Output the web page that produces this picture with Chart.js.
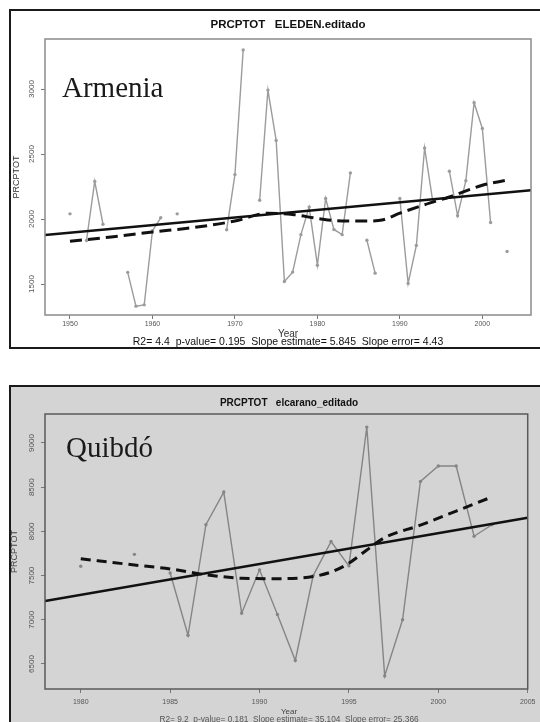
<!DOCTYPE html>
<html>
<head>
<meta charset="utf-8">
<script src="https://cdn.jsdelivr.net/npm/chart.js@4.4.1/dist/chart.umd.min.js"></script>
<style>
  html, body { margin: 0; padding: 0; background: #fff; }
  #wrap { position: relative; width: 540px; height: 722px; overflow: hidden; }
  canvas { position: absolute; left: 0; }
</style>
</head>
<body>
<div id="wrap">
  <canvas id="armenia" width="540" height="360" style="top:0"></canvas>
  <canvas id="quibdo" width="540" height="362" style="top:360px"></canvas>
</div>
<script>
// ---- Armenia (top panel) ----
const armeniaYears = [1950, 1951, 1952, 1953, 1954, 1955, 1956, 1957, 1958, 1959,
  1960, 1961, 1962, 1963, 1964, 1965, 1966, 1967, 1968, 1969,
  1970, 1971, 1972, 1973, 1974, 1975, 1976, 1977, 1978, 1979,
  1980, 1981, 1982, 1983, 1984, 1985, 1986, 1987, 1988, 1989,
  1990, 1991, 1992, 1993, 1994, 1995, 1996, 1997, 1998, 1999,
  2000, 2001, 2002, 2003];
const armeniaValues = [2040, null, 1835, 2290, 1960, null, null, 1590, 1330, 1340,
  1910, 2010, null, 2040, null, null, null, null, null, 1918,
  2342, 3300, null, 2145, 2992, 2605, 1520, 1592, 1880, 2092,
  1645, 2158, 1920, 1880, 2355, null, 1837, 1584, null, null,
  2158, 1505, 1797, 2547, 2132, null, 2368, 2026, 2295, 2895,
  2697, 1974, null, 1750];
// loess smooth (dashed)
const armeniaLoessYears = [1950, 1955, 1960, 1965, 1970, 1974, 1977, 1980, 1983, 1986, 1988, 1990, 1993, 1996, 2000, 2003];
const armeniaLoessValues = [1830, 1862, 1900, 1935, 1985, 2045, 2035, 2005, 1985, 1985, 1995, 2045, 2110, 2170, 2260, 2300];
// linear trend (solid), ends at the plot edges
const armeniaTrendYears = [1946.97, 2005.9];
const armeniaTrendValues = [1877, 2222];
const armeniaXTicks = [1950, 1960, 1970, 1980, 1990, 2000];
const armeniaYTicks = [1500, 2000, 2500, 3000];

// ---- Quibdo (bottom panel) ----
const quibdoYears = [1980, 1981, 1982, 1983, 1984, 1985, 1986, 1987, 1988, 1989,
  1990, 1991, 1992, 1993, 1994, 1995, 1996, 1997, 1998, 1999,
  2000, 2001, 2002, 2003];
const quibdoValues = [7605, null, null, 7740, null, 7530, 6825, 8075, 8445, 7075,
  7565, 7060, 6540, 7500, 7885, 7610, 9180, 6365, 7000, 8565,
  8740, 8740, 7945, 8075];
const quibdoLoessYears = [1980, 1983, 1985, 1987, 1989, 1991, 1993, 1994, 1995, 1996, 1997, 1999, 2001, 2003];
const quibdoLoessValues = [7690, 7620, 7575, 7510, 7470, 7465, 7490, 7540, 7640, 7790, 7930, 8070, 8230, 8390];
const quibdoTrendYears = [1978, 2005];
const quibdoTrendValues = [7211, 8155];
const quibdoXTicks = [1980, 1985, 1990, 1995, 2000, 2005];
const quibdoYTicks = [6500, 7000, 7500, 8000, 8500, 9000];

function toPoints(xs, ys) {
  return xs.map((x, i) => ({ x: x, y: ys[i] }));
}

// draws the R-style frame, plot box and the texts around the plot
const decor = {
  id: 'decor',
  beforeDraw(chart, args, o) {
    const ctx = chart.ctx;
    ctx.save();
    ctx.fillStyle = '#fff';
    ctx.fillRect(0, 0, chart.width, chart.height);
    ctx.fillStyle = o.bg;
    ctx.fillRect(o.frame[0], o.frame[1], o.frame[2], o.frame[3]);
    ctx.restore();
  },
  afterDraw(chart, args, o) {
    const ctx = chart.ctx, a = chart.chartArea, ys = chart.scales.y;
    ctx.save();
    ctx.strokeStyle = o.boxColor;
    ctx.lineWidth = 1.5;
    ctx.strokeRect(a.left, a.top, a.right - a.left, a.bottom - a.top);
    ctx.strokeStyle = '#1a1a1a';
    ctx.lineWidth = 2;
    ctx.strokeRect(o.frame[0], o.frame[1], o.frame[2], o.frame[3]);

    // y tick labels, rotated like R's default
    ctx.fillStyle = o.tickColor;
    ctx.font = '8px "Liberation Sans", Arial, sans-serif';
    ctx.textAlign = 'center';
    ctx.textBaseline = 'middle';
    ys.ticks.forEach(t => {
      ctx.save();
      ctx.translate(o.yLabelX, ys.getPixelForValue(t.value));
      ctx.rotate(-Math.PI / 2);
      ctx.fillText(String(t.value), 0, 0);
      ctx.restore();
    });
    // y axis title
    ctx.save();
    ctx.fillStyle = o.labelColor;
    ctx.font = '9px "Liberation Sans", Arial, sans-serif';
    ctx.translate(o.yTitleX, (a.top + a.bottom) / 2);
    ctx.rotate(-Math.PI / 2);
    ctx.fillText('PRCPTOT', 0, 0);
    ctx.restore();

    // main title
    ctx.fillStyle = '#111';
    ctx.font = o.titleFont;
    ctx.fillText(o.title, o.centerX, o.titleY);

    // station name
    ctx.textAlign = 'left';
    ctx.textBaseline = 'alphabetic';
    ctx.font = '29px "Liberation Serif", "DejaVu Serif", serif';
    ctx.fillStyle = '#1a1a1a';
    ctx.fillText(o.station, o.stationX, o.stationY);

    // x title and stats line
    ctx.textAlign = 'center';
    ctx.textBaseline = 'middle';
    ctx.fillStyle = o.labelColor;
    ctx.font = o.yearFont;
    ctx.fillText('Year', o.centerX, o.yearY);
    ctx.font = o.statsFont;
    ctx.fillStyle = o.statsColor;
    ctx.fillText(o.stats, o.centerX, o.statsY);
    ctx.restore();
  }
};

function buildPanel(id, p) {
  return new Chart(document.getElementById(id), {
    type: 'line',
    data: {
      datasets: [
        { data: p.trend, borderColor: '#111', borderWidth: 2.5, pointRadius: 0, tension: 0 },
        { data: p.loess, borderColor: '#111', borderWidth: 3, borderDash: p.dash, pointRadius: 0, cubicInterpolationMode: 'monotone' },
        { data: p.series, borderColor: p.lineColor, borderWidth: 1.4, pointRadius: 1.7, pointBorderWidth: 0,
          pointBackgroundColor: p.lineColor, spanGaps: false, tension: 0 }
      ]
    },
    options: {
      responsive: false,
      animation: false,
      layout: { padding: p.padding },
      plugins: { legend: { display: false }, tooltip: { enabled: false }, decor: p.decor },
      scales: {
        x: {
          type: 'linear', min: p.xMin, max: p.xMax,
          afterBuildTicks: s => { s.ticks = p.xTicks.map(v => ({ value: v })); },
          afterFit: s => { s.height = p.xAxisHeight; },
          ticks: { font: { size: 7, family: '"Liberation Sans", Arial, sans-serif' }, color: p.decor.tickColor,
                   padding: p.xTickPad, maxRotation: 0, autoSkip: false, callback: v => String(v) },
          grid: { drawOnChartArea: false, tickLength: 4, color: '#777' },
          border: { display: false }
        },
        y: {
          type: 'linear', min: p.yMin, max: p.yMax,
          afterBuildTicks: s => { s.ticks = p.yTicks.map(v => ({ value: v })); },
          afterFit: s => { s.width = 45; },
          ticks: { display: false },
          grid: { drawOnChartArea: false, tickLength: 4, color: '#777' },
          border: { display: false }
        }
      }
    },
    plugins: [decor]
  });
}

buildPanel('armenia', {
  series: toPoints(armeniaYears, armeniaValues),
  loess: toPoints(armeniaLoessYears, armeniaLoessValues),
  trend: toPoints(armeniaTrendYears, armeniaTrendValues),
  xTicks: armeniaXTicks, yTicks: armeniaYTicks,
  xMin: 1946.97, xMax: 2005.9, yMin: 1262, yMax: 3385,
  padding: { left: 0, top: 39, right: 9, bottom: 0 },
  xAxisHeight: 45, xTickPad: 1, dash: [12, 6],
  lineColor: '#9c9c9c',
  decor: {
    bg: '#fff', frame: [10, 10, 560, 338], boxColor: '#8a8a8a',
    tickColor: '#555', labelColor: '#333', yLabelX: 32, yTitleX: 17,
    title: 'PRCPTOT   ELEDEN.editado', titleFont: 'bold 11.5px "Liberation Sans", Arial, sans-serif',
    centerX: 288, titleY: 25,
    station: 'Armenia', stationX: 62, stationY: 97,
    yearFont: '10px "Liberation Sans", Arial, sans-serif', yearY: 334,
    stats: 'R2= 4.4  p-value= 0.195  Slope estimate= 5.845  Slope error= 4.43',
    statsFont: '10.5px "Liberation Sans", Arial, sans-serif', statsColor: '#111', statsY: 342.5
  }
});

buildPanel('quibdo', {
  series: toPoints(quibdoYears, quibdoValues),
  loess: toPoints(quibdoLoessYears, quibdoLoessValues),
  trend: toPoints(quibdoTrendYears, quibdoTrendValues),
  xTicks: quibdoXTicks, yTicks: quibdoYTicks,
  xMin: 1978, xMax: 2005, yMin: 6217, yMax: 9328,
  padding: { left: 0, top: 54, right: 5, bottom: 0 },
  xAxisHeight: 33, xTickPad: 4.5, dash: [10, 6],
  lineColor: '#858585',
  decor: {
    bg: '#d4d4d4', frame: [10, 26, 560, 400], boxColor: '#5a5a5a',
    tickColor: '#555', labelColor: '#444', yLabelX: 32, yTitleX: 15,
    title: 'PRCPTOT   elcarano_editado', titleFont: 'bold 10px "Liberation Sans", Arial, sans-serif',
    centerX: 289, titleY: 43.5,
    station: 'Quibdó', stationX: 66, stationY: 97,
    yearFont: '8px "Liberation Sans", Arial, sans-serif', yearY: 352,
    stats: 'R2= 9.2  p-value= 0.181  Slope estimate= 35.104  Slope error= 25.366',
    statsFont: '8.3px "Liberation Sans", Arial, sans-serif', statsColor: '#555', statsY: 359.5
  }
});
</script>
</body>
</html>
